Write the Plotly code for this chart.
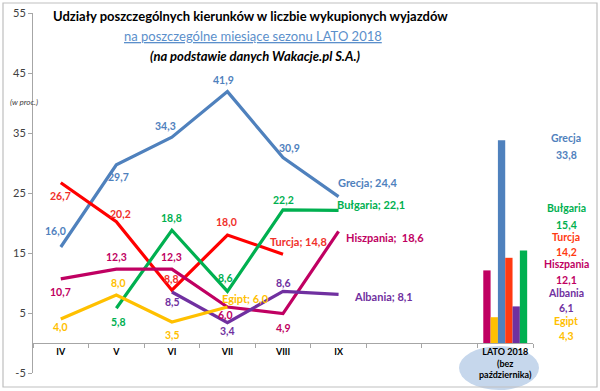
import plotly.graph_objects as go

# ---------------- data ----------------
months = ["IV", "V", "VI", "VII", "VIII", "IX"]
summary_cat = "LATO 2018<br>(bez<br>października)"
categories = months + [" ", "  ", summary_cat]

grecja = [16.0, 29.7, 34.3, 41.9, 30.9, 24.4]
turcja = [26.7, 20.2, 8.8, 18.0, 14.8, None]
bulgaria = [None, 5.8, 18.8, 8.6, 22.2, 22.1]
hiszpania = [10.7, 12.3, 12.3, 6.0, 4.9, 18.6]
albania = [None, None, 8.5, 3.4, 8.6, 8.1]
egipt = [4.0, 8.0, 3.5, 6.0, None, None]

bar_names = ["Hiszpania", "Egipt", "Grecja", "Turcja", "Albania", "Bułgaria"]
bar_values = [12.1, 4.3, 33.8, 14.2, 6.1, 15.4]

y_ticks = [-5, 5, 15, 25, 35, 45, 55]

# ---------------- styling ----------------
FONT = "Lato"
col = {
    "Grecja": "#4F81BD",
    "Turcja": "#FF0000",
    "Bułgaria": "#00B050",
    "Hiszpania": "#C00062",
    "Albania": "#7030A0",
    "Egipt": "#FFC000",
}
bar_col = dict(col)
bar_col["Turcja"] = "#FF3A12"
label_col = {
    "Grecja": "#4F81BD",
    "Turcja": "#F0302A",
    "Bułgaria": "#00B050",
    "Hiszpania": "#C00062",
    "Albania": "#7030A0",
    "Egipt": "#FFC000",
}

series = [
    ("Grecja", grecja),
    ("Turcja", turcja),
    ("Bułgaria", bulgaria),
    ("Hiszpania", hiszpania),
    ("Albania", albania),
    ("Egipt", egipt),
]

# label offsets (px) per point: (dx, dy); last point is the name label (left-aligned)
offsets = {
    "Grecja": [(-5, -16), (2, 12), (-6, -11), (-4, -12), (6, -10), (-3, -14)],
    "Turcja": [(0, 13), (4, -8), (0, -11), (-1, -13), (-15, -13), None],
    "Bułgaria": [None, (2, 14), (0, -12), (-2, -13), (0, -10), (-4, -6)],
    "Hiszpania": [(0, 13), (0, -12), (0, -12), (-2, 8), (0, 14), (5, 6)],
    "Albania": [None, None, (1, 10), (0, 8), (0, -8), (13, 2)],
    "Egipt": [(0, 8), (2, -12), (1, 13), (-7, -9), None, None],
}

# plot area in pixels
L, R, T, B = 33, 533, 13, 373
W, H = 600, 391


def px(xp):
    return (xp - L) / (R - L)


def py(yp):
    return (B - yp) / (B - T)


def fmt(v):
    return f"{v:.1f}".replace(".", ",")


fig = go.Figure()

# ellipse behind the summary category label
fig.add_shape(type="circle", xref="paper", yref="paper",
              x0=px(459), x1=px(539), y0=py(390), y1=py(346),
              fillcolor="#C6D7EC", line=dict(width=0), layer="below")

for name, vals in series:
    fig.add_trace(go.Scatter(
        x=months, y=vals, mode="lines", name=name,
        line=dict(color=col[name], width=3.2), connectgaps=False,
        showlegend=False, hoverinfo="skip"))

for name, v in zip(bar_names, bar_values):
    fig.add_trace(go.Bar(x=[summary_cat], y=[v], name=name,
                         marker=dict(color=bar_col[name], line=dict(width=0)),
                         showlegend=False, hoverinfo="skip"))

annotations = []
for name, vals in series:
    last_idx = max(i for i, v in enumerate(vals) if v is not None)
    for i, v in enumerate(vals):
        if v is None:
            continue
        dx, dy = offsets[name][i]
        if i == last_idx:
            sep = ";  " if name == "Hiszpania" else "; "
            txt = f"{name}{sep}{fmt(v)}"
            annotations.append(dict(x=months[i], y=v, xref="x", yref="y", text=f"<b>{txt}</b>",
                                    showarrow=False, xanchor="left", yanchor="middle",
                                    xshift=dx, yshift=-dy,
                                    font=dict(family=FONT, size=11, color=label_col[name])))
        else:
            annotations.append(dict(x=months[i], y=v, xref="x", yref="y", text=f"<b>{fmt(v)}</b>",
                                    showarrow=False, xanchor="center", yanchor="middle",
                                    xshift=dx, yshift=-dy,
                                    font=dict(family=FONT, size=10.5, color=label_col[name])))

# bar labels on the right
bar_label_pos = {
    "Grecja": (138, 155),
    "Bułgaria": (208, 225),
    "Turcja": (237, 252),
    "Hiszpania": (264, 280),
    "Albania": (293, 308),
    "Egipt": (321, 336),
}
for name, v in zip(bar_names, bar_values):
    y1, y2 = bar_label_pos[name]
    c = bar_col[name]
    annotations.append(dict(x=px(566), y=py(y1), xref="paper", yref="paper", text=f"<b>{name}</b>",
                            showarrow=False, xanchor="center", yanchor="middle",
                            font=dict(family=FONT, size=10.5, color=c)))
    annotations.append(dict(x=px(566), y=py(y2), xref="paper", yref="paper", text=f"<b>{fmt(v)}</b>",
                            showarrow=False, xanchor="center", yanchor="middle",
                            font=dict(family=FONT, size=10.5, color=c)))

# titles
annotations += [
    dict(x=px(250), y=py(16), xref="paper", yref="paper", showarrow=False,
         text="<b>Udziały poszczególnych kierunków w liczbie wykupionych wyjazdów</b>",
         font=dict(family=FONT, size=13, color="#000000"), xanchor="center", yanchor="middle"),
    dict(x=px(253), y=py(36), xref="paper", yref="paper", showarrow=False,
         text="<u>na poszczególne miesiące sezonu LATO 2018</u>",
         font=dict(family=FONT, size=13, color="#5B8FCB"), xanchor="center", yanchor="middle"),
    dict(x=px(255), y=py(56), xref="paper", yref="paper", showarrow=False,
         text="<b><i>(na podstawie danych Wakacje.pl S.A.)</i></b>",
         font=dict(family=FONT, size=13, color="#000000"), xanchor="center", yanchor="middle"),
    dict(x=px(8), y=py(102), xref="paper", yref="paper", showarrow=False,
         text="<i>(w proc.)</i>", font=dict(family=FONT, size=8, color="#404040"),
         xanchor="left", yanchor="middle"),
]

# chart border
fig.add_shape(type="rect", xref="paper", yref="paper",
              x0=px(3), x1=px(597), y0=py(387), y1=py(3),
              line=dict(color="#BFBFBF", width=1.2), fillcolor="rgba(0,0,0,0)", layer="below")

fig.update_layout(
    width=W, height=H,
    margin=dict(l=L, r=W - R, t=T, b=H - B, pad=0),
    paper_bgcolor="white", plot_bgcolor="white",
    barmode="group", bargap=0.21, bargroupgap=0,
    annotations=annotations,
    xaxis=dict(type="category", categoryorder="array", categoryarray=categories,
               tickmode="array", tickvals=categories,
               ticktext=["<b>" + c + "</b>" if c.strip() else "" for c in categories],
               range=[-0.5, len(categories) - 0.5],
               anchor="free", position=5 / 60,
               showline=True, linecolor="#A6A6A6", linewidth=1,
               ticks="outside", ticklen=4, tickcolor="#A6A6A6", tickson="boundaries",
               tickangle=0, automargin=False,
               tickfont=dict(family=FONT, size=9, color="#000000"),
               showgrid=False, zeroline=False, fixedrange=True),
    yaxis=dict(range=[-5, 55], tickvals=y_ticks, ticktext=[str(v) for v in y_ticks],
               showline=True, linecolor="#A6A6A6", linewidth=1,
               ticks="outside", ticklen=4, tickcolor="#A6A6A6", automargin=False,
               tickfont=dict(family=FONT, size=11, color="#404040"),
               showgrid=False, zeroline=False, fixedrange=True),
)

fig.write_html("out.html", config={"displayModeBar": False},
               post_script="document.body.style.margin='0';document.body.style.overflow='hidden';")
